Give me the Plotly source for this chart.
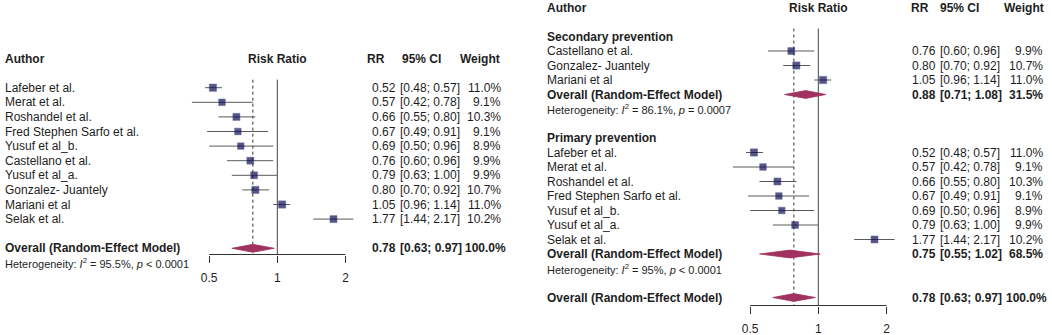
import math
import plotly.graph_objects as go

# ---------------- data ----------------
left_authors = ["Lafeber et al.", "Merat et al.", "Roshandel et al.", "Fred Stephen Sarfo et al.",
                "Yusuf et al_b.", "Castellano et al.", "Yusuf et al_a.", "Gonzalez- Juantely",
                "Mariani et al", "Selak et al."]
left_rr = [0.52, 0.57, 0.66, 0.67, 0.69, 0.76, 0.79, 0.80, 1.05, 1.77]
left_lo = [0.48, 0.42, 0.55, 0.49, 0.50, 0.60, 0.63, 0.70, 0.96, 1.44]
left_hi = [0.57, 0.78, 0.80, 0.91, 0.96, 0.96, 1.00, 0.92, 1.14, 2.17]
left_w = [11.0, 9.1, 10.3, 9.1, 8.9, 9.9, 9.9, 10.7, 11.0, 10.2]

overall_all = [0.78, 0.63, 0.97, 100.0]
het_all = ["95.5%", "&lt; 0.0001"]

sec_authors = ["Castellano et al.", "Gonzalez- Juantely", "Mariani et al"]
sec_rr = [0.76, 0.80, 1.05]
sec_lo = [0.60, 0.70, 0.96]
sec_hi = [0.96, 0.92, 1.14]
sec_w = [9.9, 10.7, 11.0]
sec_overall = [0.88, 0.71, 1.08, 31.5]
sec_het = ["86.1%", "= 0.0007"]

pri_authors = ["Lafeber et al.", "Merat et al.", "Roshandel et al.", "Fred Stephen Sarfo et al.",
               "Yusuf et al_b.", "Yusuf et al_a.", "Selak et al."]
pri_rr = [0.52, 0.57, 0.66, 0.67, 0.69, 0.79, 1.77]
pri_lo = [0.48, 0.42, 0.55, 0.49, 0.50, 0.63, 1.44]
pri_hi = [0.57, 0.78, 0.80, 0.91, 0.96, 1.00, 2.17]
pri_w = [11.0, 9.1, 10.3, 9.1, 8.9, 9.9, 10.2]
pri_overall = [0.75, 0.55, 1.02, 68.5]
pri_het = ["95%", "&lt; 0.0001"]

tick_vals = [0.5, 1, 2]
tick_text = ["0.5", "1", "2"]

# ---------------- layout constants ----------------
W, H = 1052, 335
FONT = "Liberation Sans, Arial, sans-serif"
TXT = "#1e1e1e"
SQ = "#0e0e55"
CI_COL = "#5a5a5a"
DIA = "#a0325f"
PPD = 226.6  # pixels per decade on the log axes

panels = {
    "L": dict(x1=277.3, dom=(150, 372), y0=58.5, s=14.6, axis_px=254.5, xa="x", ya="y",
              lab_x=3, rr_x=370, ci_x=398, w_x=503, hdr_rr=376, hdr_ci=421, hdr_w=502),
    "R": dict(x1=818.3, dom=(690, 912), y0=7.5, s=14.5, axis_px=305.5, xa="x2", ya="y2",
              lab_x=545, rr_x=910, ci_x=938, w_x=1045, hdr_rr=920, hdr_ci=959, hdr_w=1046),
}

fig = go.Figure()
annotations = []
shapes = []


def ann(text, xpx, row, p, anchor="left", bold=False, size=12):
    if bold:
        text = "<b>" + text + "</b>"
    annotations.append(dict(text=text, x=xpx / W, xref="paper", y=row, yref=p["ya"],
                            xanchor=anchor, yanchor="middle", showarrow=False,
                            font=dict(family=FONT, size=size, color=TXT)))


def fmt_vals(rr, lo, hi, w, row, p, bold=False, w_shift=0):
    ann(f"{rr:.2f}", p["rr_x"], row, p, "left", bold)
    ann(f"[{lo:.2f}; {hi:.2f}]", p["ci_x"], row, p, "left", bold)
    ann(f"{w:.1f}%", p["w_x"] + w_shift, row, p, "right", bold)


def studies(authors, rr, lo, hi, w, rows, p):
    xs, ys = [], []
    for r, a, b in zip(rows, lo, hi):
        xs += [a, b, None]
        ys += [r, r, None]
    fig.add_trace(go.Scatter(x=xs, y=ys, mode="lines", line=dict(color=CI_COL, width=1),
                             xaxis=p["xa"], yaxis=p["ya"], hoverinfo="skip", showlegend=False))
    fig.add_trace(go.Scatter(x=rr, y=rows, mode="markers",
                             marker=dict(symbol="square", size=[2.2 * math.sqrt(v) for v in w],
                                         color=SQ, line=dict(color="#2a2a6e", width=0.5)),
                             xaxis=p["xa"], yaxis=p["ya"], hoverinfo="skip", showlegend=False))
    for r, name, v, a, b, ww in zip(rows, authors, rr, lo, hi, w):
        ann(name, p["lab_x"], r, p)
        fmt_vals(v, a, b, ww, r, p)


def diamond(ov, row, p, half=0.27, w_shift=0):
    est, lo, hi, w = ov
    fig.add_trace(go.Scatter(x=[lo, est, hi, est, lo], y=[row, row - half, row, row + half, row],
                             mode="lines", fill="toself", fillcolor=DIA,
                             line=dict(color=DIA, width=0.8),
                             xaxis=p["xa"], yaxis=p["ya"], hoverinfo="skip", showlegend=False))
    ann("Overall (Random-Effect Model)", p["lab_x"], row, p, bold=True)
    fmt_vals(est, lo, hi, w, row, p, bold=True, w_shift=w_shift)


def het(vals, row, p):
    i2, pv = vals
    ann(f"Heterogeneity: <i>I</i><sup>2</sup> = {i2}, <i>p</i> {pv}", p["lab_x"], row, p, size=11)


def header(p):
    ann("Author", p["lab_x"], 0, p, bold=True)
    ann("Risk Ratio", p["x1"], 0, p, "center", bold=True)
    ann("RR", p["hdr_rr"], 0, p, "center", bold=True)
    ann("95% CI", p["hdr_ci"], 0, p, "center", bold=True)
    ann("Weight", p["hdr_w"], 0, p, "right", bold=True)


def ref_lines(p, est):
    axis_row = (p["axis_px"] - p["y0"]) / p["s"]
    shapes.append(dict(type="line", xref=p["xa"], yref=p["ya"], x0=1, x1=1, y0=1.45, y1=axis_row,
                       line=dict(color="#444444", width=1), layer="below"))
    shapes.append(dict(type="line", xref=p["xa"], yref=p["ya"], x0=est, x1=est, y0=1.45, y1=axis_row,
                       line=dict(color="#333333", width=1, dash="dot"), layer="below"))
    shapes.append(dict(type="line", xref=p["xa"], yref="paper", x0=tick_vals[0], x1=tick_vals[-1],
                       y0=1 - p["axis_px"] / H, y1=1 - p["axis_px"] / H,
                       line=dict(color="#333333", width=1)))


# ---------------- left panel ----------------
pL = panels["L"]
header(pL)
rowsL = [2 + i for i in range(len(left_authors))]
ref_lines(pL, overall_all[0])
studies(left_authors, left_rr, left_lo, left_hi, left_w, rowsL, pL)
diamond(overall_all, rowsL[-1] + 2, pL, w_shift=5)
het(het_all, rowsL[-1] + 3, pL)

# ---------------- right panel ----------------
pR = panels["R"]
header(pR)
ref_lines(pR, overall_all[0])
r = 2
ann("Secondary prevention", pR["lab_x"], r, pR, bold=True)
rows_sec = [r + 1 + i for i in range(len(sec_authors))]
studies(sec_authors, sec_rr, sec_lo, sec_hi, sec_w, rows_sec, pR)
diamond(sec_overall, rows_sec[-1] + 1, pR)
het(sec_het, rows_sec[-1] + 2, pR)
r = rows_sec[-1] + 4
ann("Primary prevention", pR["lab_x"], r, pR, bold=True)
rows_pri = [r + 1 + i for i in range(len(pri_authors))]
studies(pri_authors, pri_rr, pri_lo, pri_hi, pri_w, rows_pri, pR)
diamond(pri_overall, rows_pri[-1] + 1, pR)
het(pri_het, rows_pri[-1] + 2, pR)
diamond(overall_all, rows_pri[-1] + 4, pR, w_shift=4)


def xaxis_cfg(p):
    lo_px, hi_px = p["dom"]
    return dict(type="log", domain=[lo_px / W, hi_px / W],
                range=[(lo_px - p["x1"]) / PPD, (hi_px - p["x1"]) / PPD],
                anchor="free", position=1 - p["axis_px"] / H,
                tickvals=tick_vals, ticktext=tick_text, ticks="outside", ticklen=7,
                tickcolor="#333333", tickwidth=1, ticklabelstandoff=5,
                showline=False, showgrid=False, zeroline=False,
                tickfont=dict(family=FONT, size=12, color=TXT), fixedrange=True)


def yaxis_cfg(p, anchor):
    return dict(domain=[0, 1], range=[(H - p["y0"]) / p["s"], -p["y0"] / p["s"]],
                visible=False, showgrid=False, zeroline=False, anchor=anchor, fixedrange=True)


fig.update_layout(
    width=W, height=H, margin=dict(l=0, r=0, t=0, b=0),
    paper_bgcolor="white", plot_bgcolor="rgba(0,0,0,0)",
    xaxis=xaxis_cfg(pL), xaxis2=xaxis_cfg(pR),
    yaxis=yaxis_cfg(pL, "x"), yaxis2=yaxis_cfg(pR, "x2"),
    annotations=annotations, shapes=shapes, showlegend=False,
    font=dict(family=FONT, size=12, color=TXT),
)

fig.write_html("out.html", config={"displayModeBar": False},
               post_script="document.body.style.margin='0';document.body.style.overflow='hidden';")
